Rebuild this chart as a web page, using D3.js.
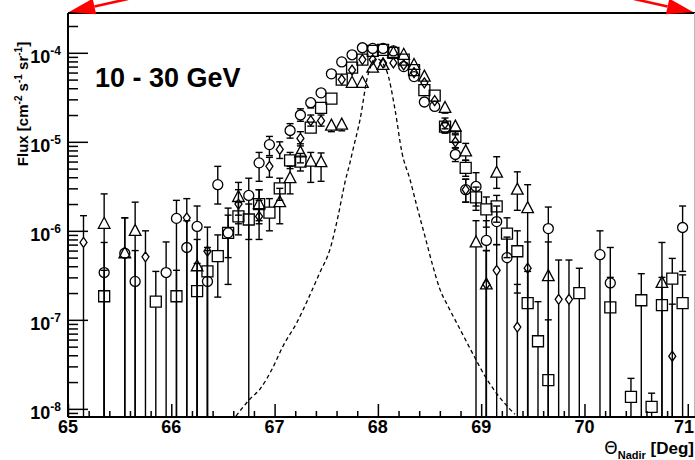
<!DOCTYPE html>
<html><head><meta charset="utf-8">
<script src="https://cdn.jsdelivr.net/npm/d3@7"></script>
<style>body{margin:0;background:#fff}svg{display:block}</style>
</head><body>
<svg id="c" width="695" height="460"></svg>
<script>
// ---------- data (x in deg, flux, upper error end, lower error end; 0 = runs off the axis)
const xMajorTicks = [65, 66, 67, 68, 69, 70, 71];
const yMajorTicks = [1e-8, 1e-7, 1e-6, 1e-5, 1e-4];
const yTickExponents = ["-8", "-7", "-6", "-5", "-4"];
const energyLabel = "10 - 30 GeV";

const circles = [
  [65.35,3.4e-7,7.4e-7,0],[65.55,5.6e-7,1.4e-6,0],[65.65,2.7e-7,6.0e-7,0],[65.95,3.4e-7,7.5e-7,0],
  [66.05,1.38e-6,2.2e-6,0],[66.15,6.5e-7,1.3e-6,0],[66.25,1.12e-6,1.9e-6,0],[66.35,2.7e-7,6.0e-7,0],
  [66.45,3.3e-6,5.3e-6,2.0e-6],[66.55,9.5e-7,1.8e-6,2.5e-7],[66.75,2.5e-6,3.9e-6,0],[66.85,5.8e-6,7.6e-6,3.6e-6],
  [66.95,9.3e-6,1.15e-5,7.0e-6],[67.15,1.34e-5,1.6e-5,1.1e-5],[67.25,2.0e-5,2.35e-5,1.7e-5],
  [67.35,2.75e-5,3.1e-5,2.4e-5],[67.45,3.55e-5,3.9e-5,3.2e-5],[67.55,5.8e-5,6.3e-5,5.3e-5],
  [67.65,7.9e-5,8.5e-5,7.3e-5],[67.75,9.5e-5,1.02e-4,8.8e-5],[67.85,1.14e-4,1.21e-4,1.07e-4],
  [67.95,1.12e-4,1.19e-4,1.05e-4],[68.05,1.12e-4,1.19e-4,1.05e-4],[68.15,1.05e-4,1.12e-4,9.8e-5],
  [68.25,7.0e-5,7.6e-5,6.4e-5],[68.35,5.4e-5,5.9e-5,4.9e-5],[68.45,2.8e-5,3.1e-5,2.5e-5],
  [68.55,2.5e-5,2.8e-5,2.2e-5],[68.65,1.44e-5,1.65e-5,1.25e-5],[68.75,7.2e-6,8.6e-6,6.0e-6],
  [68.85,2.9e-6,3.8e-6,2.1e-6],[68.95,3.15e-6,4.5e-6,1.9e-6],[69.05,7.8e-7,1.3e-6,0],
  [69.15,1.27e-6,1.9e-6,7e-7],[69.25,5.0e-7,8.5e-7,0],[69.65,1.06e-6,1.85e-6,0],
  [70.15,5.4e-7,1.0e-6,0],[70.25,2.6e-7,6.5e-7,0],[70.95,1.09e-6,1.9e-6,3.5e-7]
];
const squares = [
  [65.35,1.84e-7,3.6e-7,0],[65.85,1.6e-7,3.5e-7,0],[66.05,1.84e-7,3.6e-7,0],[66.25,2.1e-7,4.3e-7,0],
  [66.35,3.5e-7,6.5e-7,0],[66.45,5.2e-7,9.0e-7,1.8e-7],[66.55,9.5e-7,1.5e-6,5e-7],[66.65,1.45e-6,2.1e-6,9e-7],
  [66.75,1.34e-6,2.0e-6,8e-7],[66.85,2.0e-6,2.9e-6,1.3e-6],[66.95,1.6e-6,2.3e-6,1.0e-6],[67.05,3.0e-6,3.9e-6,2.2e-6],
  [67.15,6.2e-6,7.6e-6,5.0e-6],[67.25,6.0e-6,7.4e-6,4.7e-6],[67.35,1.44e-5,1.65e-5,1.25e-5],
  [67.45,2.4e-5,2.7e-5,2.15e-5],[67.55,3.05e-5,3.35e-5,2.75e-5],[67.65,5.0e-5,5.4e-5,4.6e-5],
  [67.75,6.8e-5,7.3e-5,6.3e-5],[67.85,8.4e-5,9.0e-5,7.8e-5],[67.95,1.05e-4,1.12e-4,9.8e-5],
  [68.05,1.08e-4,1.15e-4,1.01e-4],[68.15,1.0e-4,1.07e-4,9.3e-5],[68.25,8.4e-5,9.0e-5,7.8e-5],
  [68.35,6.4e-5,6.9e-5,5.9e-5],[68.45,3.8e-5,4.15e-5,3.45e-5],[68.55,3.3e-5,3.6e-5,3.0e-5],
  [68.65,1.48e-5,1.7e-5,1.28e-5],[68.75,1.14e-5,1.3e-5,9.8e-6],[68.85,5.1e-6,6.2e-6,4.1e-6],
  [68.95,2.37e-6,3.1e-6,1.7e-6],[69.05,1.74e-6,2.4e-6,1.1e-6],[69.15,1.88e-6,2.5e-6,1.25e-6],
  [69.25,9.3e-7,1.4e-6,5e-7],[69.35,5.9e-7,1.0e-6,2.0e-7],[69.45,1.54e-7,3.5e-7,0],
  [69.55,5.75e-8,1.6e-7,0],[69.65,2.1e-8,1.0e-7,0],[69.95,2.0e-7,3.8e-7,0],[70.25,1.38e-7,3.0e-7,0],
  [70.45,1.36e-8,2.2e-8,0],[70.55,1.66e-7,3.3e-7,0],[70.65,1.05e-8,1.5e-8,0],[70.75,1.46e-7,3.0e-7,0],
  [70.85,2.9e-7,4.9e-7,0],[70.95,1.54e-7,3.2e-7,0]
];
const triangles = [
  [65.35,1.2e-6,2.6e-6,0],[65.55,5.6e-7,1.4e-6,0],[65.65,1.0e-6,2.1e-6,0],[66.25,4.0e-7,8.0e-7,0],
  [66.65,2.4e-6,3.5e-6,1.5e-6],[66.85,2.0e-6,2.9e-6,1.2e-6],[67.05,2.1e-6,3.0e-6,1.2e-6],
  [67.15,3.9e-6,5.3e-6,2.6e-6],[67.25,7.6e-6,9.5e-6,5.8e-6],[67.35,6.0e-6,7.6e-6,3.5e-6],
  [67.45,5.9e-6,7.5e-6,3.6e-6],[67.55,1.52e-5,1.75e-5,1.3e-5],[67.65,1.56e-5,1.8e-5,1.33e-5],
  [67.75,4.6e-5,5.0e-5,4.2e-5],[67.85,4.6e-5,5.0e-5,4.2e-5],[67.95,6.8e-5,7.3e-5,6.3e-5],
  [68.05,7.3e-5,7.8e-5,6.8e-5],[68.15,1.0e-4,1.07e-4,9.3e-5],[68.25,9.5e-5,1.02e-4,8.8e-5],
  [68.35,7.3e-5,7.9e-5,6.7e-5],[68.45,5.4e-5,5.9e-5,4.9e-5],[68.65,2.4e-5,2.75e-5,2.1e-5],
  [68.75,1.48e-5,1.75e-5,1.25e-5],[68.85,7.8e-6,9.6e-6,6.2e-6],[68.95,7.4e-7,1.3e-6,0],
  [69.05,2.5e-7,6e-7,0],[69.15,4.5e-6,6.8e-6,3.0e-6],[69.35,2.9e-6,4.6e-6,1.7e-6],
  [69.45,1.8e-6,3.3e-6,0],[69.65,3.1e-7,7.5e-7,0],[70.75,2.6e-7,7.4e-7,0]
];
const diamonds = [
  [65.15,7.4e-7,1.48e-6,0],[65.75,5.1e-7,1.0e-6,0],[66.15,1.4e-6,2.3e-6,0],[66.35,5.9e-7,1.1e-6,0],
  [66.65,2.0e-6,2.9e-6,1.2e-6],[66.85,1.45e-6,2.2e-6,8e-7],[66.95,5.3e-6,6.7e-6,4.0e-6],
  [67.05,8.2e-6,1.0e-5,6.5e-6],[67.25,1.09e-5,1.3e-5,9e-6],[67.35,1.73e-5,2.0e-5,1.5e-5],
  [67.45,1.73e-5,2.0e-5,1.5e-5],[67.65,5.0e-5,5.4e-5,4.6e-5],[67.75,6.4e-5,6.9e-5,5.9e-5],
  [67.85,8.4e-5,9.0e-5,7.8e-5],[67.95,8.4e-5,9.0e-5,7.8e-5],[68.05,7.7e-5,8.3e-5,7.1e-5],
  [68.15,7.7e-5,8.3e-5,7.1e-5],[68.25,7.3e-5,7.9e-5,6.7e-5],[68.35,6.0e-5,6.5e-5,5.5e-5],
  [68.45,4.6e-5,5.0e-5,4.2e-5],[68.55,2.9e-5,3.2e-5,2.6e-5],[68.65,1.6e-5,1.85e-5,1.4e-5],
  [68.75,1.0e-5,1.2e-5,8.5e-6],[68.85,2.9e-6,3.8e-6,2.1e-6],[69.05,2.5e-7,6e-7,0],
  [69.15,3.6e-7,7.0e-7,0],[69.35,8.3e-8,2.5e-7,0],[69.45,3.8e-7,7.5e-7,0],[69.75,1.7e-7,4.7e-7,0],
  [69.85,1.7e-7,4.7e-7,0],[70.85,3.9e-8,1.5e-7,0]
];
const modelCurve = [
  [66.626,8.3e-9],[66.762,1.29e-8],[66.859,1.67e-8],[66.975,2.79e-8],[67.081,5.06e-8],[67.217,9.4e-8],
  [67.323,1.70e-7],[67.439,3.42e-7],[67.536,6.18e-7],[67.614,1.45e-6],[67.681,3.49e-6],[67.730,5.85e-6],
  [67.759,8.18e-6],[67.827,1.77e-5],[67.904,5.66e-5],[67.991,8.57e-5],[68.088,6.12e-5],[68.166,2.30e-5],
  [68.233,7.57e-6],[68.311,3.77e-6],[68.378,1.88e-6],[68.456,8.66e-7],[68.533,3.99e-7],[68.601,2.20e-7],
  [68.679,1.42e-7],[68.795,7.85e-8],[68.921,4.12e-8],[69.037,2.33e-8],[69.133,1.58e-8],[69.259,1.05e-8],
  [69.327,8.7e-9]
];

// ---------- layout
const L = 68, R = 695, T = 13, B = 417;
const x = d3.scaleLinear().domain([65, 71.07]).range([L, R]);
const y = d3.scaleLog().domain([8.1e-9, 2.8e-4]).range([B, T]);
const svg = d3.select("#c");
const FONT = "'Liberation Sans', Arial, Helvetica, sans-serif";

svg.append("defs").append("clipPath").attr("id", "clip")
  .append("rect").attr("x", L).attr("y", T).attr("width", R - L).attr("height", B - T);

const plot = svg.append("g").attr("clip-path", "url(#clip)");

// model curve
plot.append("path").datum(modelCurve)
  .attr("d", d3.line().x(d => x(d[0])).y(d => y(d[1])).curve(d3.curveMonotoneX))
  .attr("fill", "none").attr("stroke", "#000").attr("stroke-width", 1.3)
  .attr("stroke-dasharray", "4,3");

// marker shapes
const shapes = {
  circle:   {d: "M-5,0A5,5 0 1,0 5,0A5,5 0 1,0 -5,0Z", up: 5, dn: 5},
  square:   {d: "M-5.5,-5.5H5.5V5.5H-5.5Z", up: 5.5, dn: 5.5},
  triangle: {d: "M0,-6.5L5.8,4.5H-5.8Z", up: 6.5, dn: 4.5},
  diamond:  {d: "M0,-5L3.5,0L0,5L-3.5,0Z", up: 5, dn: 5}
};
const series = [
  {data: diamonds, shape: "diamond"},
  {data: triangles, shape: "triangle"},
  {data: squares, shape: "square"},
  {data: circles, shape: "circle"}
];
const cap = 3.5;
series.forEach(s => {
  const sh = shapes[s.shape];
  const g = plot.append("g");
  s.data.forEach(d => {
    const cx = x(d[0]), cy = y(d[1]);
    const yt = y(d[2]);
    if (yt < cy - sh.up) {
      g.append("line").attr("x1", cx).attr("x2", cx).attr("y1", yt).attr("y2", cy - sh.up)
        .attr("stroke", "#000").attr("stroke-width", 1.4);
      g.append("line").attr("x1", cx - cap).attr("x2", cx + cap).attr("y1", yt).attr("y2", yt)
        .attr("stroke", "#000").attr("stroke-width", 1.4);
    }
    const yb = d[3] > 0 ? y(d[3]) : B + 5;
    if (yb > cy + sh.dn) {
      g.append("line").attr("x1", cx).attr("x2", cx).attr("y1", cy + sh.dn).attr("y2", yb)
        .attr("stroke", "#000").attr("stroke-width", 1.4);
      if (d[3] > 0)
        g.append("line").attr("x1", cx - cap).attr("x2", cx + cap).attr("y1", yb).attr("y2", yb)
          .attr("stroke", "#000").attr("stroke-width", 1.4);
    }
    g.append("path").attr("d", sh.d).attr("transform", `translate(${cx},${cy})`)
      .attr("fill", "none").attr("stroke", "#000").attr("stroke-width", 1.3);
  });
});

// ---------- frame
svg.append("line").attr("x1", L).attr("x2", R).attr("y1", T).attr("y2", T)
  .attr("stroke", "#000").attr("stroke-width", 2);
svg.append("line").attr("x1", R - 0.5).attr("x2", R - 0.5).attr("y1", T).attr("y2", B)
  .attr("stroke", "#bbb").attr("stroke-width", 1);

// ---------- x axis (ticks pointing inward)
const xMinor = d3.range(65, 71.07, 0.2).filter(v => Math.abs(v - Math.round(v)) > 1e-6);
const xAxisG = svg.append("g").attr("transform", `translate(0,${B})`);
xAxisG.call(d3.axisBottom(x).tickValues(xMinor).tickSize(-6).tickFormat(""));
xAxisG.append("g").call(d3.axisBottom(x).tickValues(xMajorTicks).tickSize(-13).tickFormat(""));
xAxisG.selectAll("path.domain").attr("stroke-width", 2).attr("d", `M${L},0H${R}`);
xAxisG.selectAll("line").attr("stroke-width", 1.5);
xMajorTicks.forEach(v => {
  const last = v === xMajorTicks[xMajorTicks.length - 1];
  svg.append("text").attr("x", last ? 694 : x(v)).attr("y", 433)
    .attr("text-anchor", last ? "end" : "middle")
    .attr("font-family", FONT).attr("font-weight", "bold").attr("font-size", 18)
    .attr("fill", "#000").text(d3.format("d")(v));
});

// ---------- y axis
const yMinor = [];
for (let e = -9; e <= -4; e++) for (let m = 2; m <= 9; m++) {
  const v = m * Math.pow(10, e);
  if (v >= 8.1e-9 && v <= 2.8e-4) yMinor.push(v);
}
const yAxisG = svg.append("g").attr("transform", `translate(${L},0)`);
yAxisG.call(d3.axisLeft(y).tickValues(yMinor).tickSize(-10).tickFormat(""));
yAxisG.append("g").call(d3.axisLeft(y).tickValues(yMajorTicks).tickSize(-20).tickFormat(""));
yAxisG.selectAll("path.domain").attr("stroke-width", 2).attr("d", `M0,${T}V${B}`);
yAxisG.selectAll("line").attr("stroke-width", 1.5);

const yLab = svg.append("g");
yMajorTicks.forEach((v, i) => {
  const t = yLab.append("text").attr("x", 61).attr("y", y(v) + 10)
    .attr("text-anchor", "end").attr("font-family", FONT).attr("font-weight", "bold")
    .attr("font-size", 18).attr("fill", "#000");
  t.append("tspan").text("10");
  t.append("tspan").attr("font-size", 12).attr("dy", -8).text(yTickExponents[i]);
});

// y title
const yt = svg.append("text").attr("transform", "translate(28,104) rotate(-90)")
  .attr("text-anchor", "middle").attr("font-family", FONT).attr("font-weight", "bold")
  .attr("font-size", 15).attr("fill", "#000");
yt.append("tspan").text("Flux [cm");
yt.append("tspan").attr("font-size", 10).attr("dy", -6).text("-2");
yt.append("tspan").attr("dy", 6).text(" s");
yt.append("tspan").attr("font-size", 10).attr("dy", -6).text("-1");
yt.append("tspan").attr("dy", 6).text(" sr");
yt.append("tspan").attr("font-size", 10).attr("dy", -6).text("-1");
yt.append("tspan").attr("dy", 6).text("]");

// x title
const xt = svg.append("text").attr("x", 694).attr("y", 454).attr("text-anchor", "end")
  .attr("font-family", FONT).attr("font-weight", "bold").attr("font-size", 17).attr("fill", "#000");
xt.append("tspan").attr("font-weight", "normal").attr("font-family", "'DejaVu Sans', sans-serif")
  .attr("font-size", 17).text("\u0398");
xt.append("tspan").attr("font-size", 11).attr("dy", 5).text("Nadir");
xt.append("tspan").attr("dy", -5).text(" [Deg]");

// energy label
svg.append("text").attr("x", 95).attr("y", 87).attr("font-family", FONT).attr("font-weight", "bold")
  .attr("font-size", 27).attr("fill", "#000").text(energyLabel);

// red arrows
const arrows = [[[128, -1], [69, 12]], [[634, -1], [693, 12]]];
arrows.forEach(a => {
  const [p0, p1] = a;
  const ang = Math.atan2(p1[1] - p0[1], p1[0] - p0[0]);
  const len = 26, w = 8;
  const bx = p1[0] - len * Math.cos(ang), by = p1[1] - len * Math.sin(ang);
  svg.append("line").attr("x1", p0[0]).attr("y1", p0[1]).attr("x2", bx).attr("y2", by)
    .attr("stroke", "#f00").attr("stroke-width", 2.5);
  const nx = -Math.sin(ang) * w, ny = Math.cos(ang) * w;
  svg.append("path").attr("d", `M${p1[0]},${p1[1]}L${bx + nx},${by + ny}L${bx - nx},${by - ny}Z`)
    .attr("fill", "#f00");
});
</script>
</body></html>
